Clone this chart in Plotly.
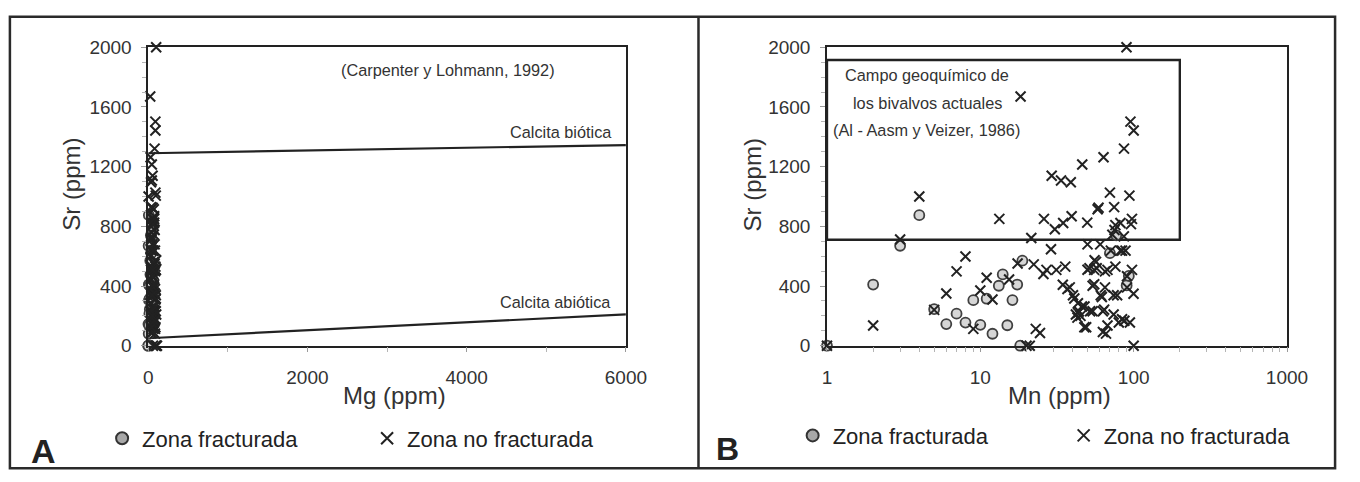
import plotly.graph_objects as go

W, H = 1360, 482

# ---- Zona fracturada (circles) ----
fz_mn = [1, 2, 3, 4, 5, 6, 7, 8, 9, 10, 11, 12, 13.2, 14, 15, 16.2, 17.4, 18.8, 18.2, 70, 77, 90, 93]
fz_sr = [0, 410, 670, 875, 245, 145, 215, 155, 305, 140, 315, 80, 402, 478, 137, 306, 410, 570, 0, 620, 740, 404, 468]
fz_mg = [0, 12, 5, 8, 20, 3, 15, 25, 10, 30, 18, 6, 22, 28, 14, 35, 9, 26, 2, 40, 33, 19, 45]

# ---- Zona no fracturada (crosses) ----
nfz_mn = [1, 2, 3, 4, 5, 6, 7, 8, 9, 10,
          11, 12, 13.3, 15.4, 17.5, 18.3, 20, 21, 21.5, 22.3,
          23, 24.5, 25.8, 26, 27, 28.9, 29.2, 30.6, 31.3, 33.6,
          34.7, 35.8, 38.9, 39.4, 34.5, 37, 38.3, 40.2, 41, 42,
          43, 43.3, 44, 46, 46.2, 47.7, 49.8, 50, 50, 52,
          54, 55.6, 57.4, 58.2, 59, 60.5, 62, 63, 63, 63.6,
          65, 65, 66, 67.5, 70, 71, 72.6, 74, 74, 74.6,
          75, 76, 76, 78, 80, 82, 84, 84, 86.3, 86.5,
          89.8, 90.5, 90.5, 93.8, 94.5, 95.3, 96, 97.5, 97.5, 99.8,
          100, 100, 64.2, 49, 47.8, 43.4, 56.8, 51.5, 55.3, 67.5,
          55.3, 61, 88.5, 82, 54, 87, 45]
nfz_sr = [0, 135, 712, 1000, 240, 350, 498, 598, 113, 370,
          455, 310, 850, 444, 551, 1670, 0, 0, 722, 545,
          113, 85, 481, 850, 508, 647, 1139, 780, 508, 1107,
          822, 530, 1096, 868, 408, 380, 391, 338, 316, 209,
          188, 284, 230, 263, 1214, 124, 825, 679, 509, 231,
          402, 573, 519, 915, 925, 679, 327, 231, 92, 1263,
          391, 498, 81, 135, 1026, 637, 744, 338, 209, 929,
          776, 808, 530, 338, 156, 822, 177, 637, 733, 1321,
          2000, 466, 391, 1006, 156, 1502, 815, 850, 508, 348,
          1442, 0, 242, 124, 263, 220, 562, 519, 508, 508,
          412, 338, 637, 637, 231, 167, 200]
nfz_mg = [95, 60, 40, 5, 75, 50, 85, 30, 65, 45,
          70, 90, 55, 35, 80, 25, 60, 100, 45, 75,
          85, 40, 65, 50, 95, 30, 55, 70, 80, 45,
          60, 90, 35, 75, 50, 85, 65, 40, 95, 55,
          70, 30, 80, 60, 45, 90, 75, 50, 35, 85,
          65, 100, 40, 70, 55, 80, 45, 95, 60, 30,
          75, 50, 85, 65, 90, 40, 70, 55, 100, 35,
          80, 60, 45, 95, 75, 50, 85, 65, 40, 80,
          100, 55, 70, 95, 45, 90, 60, 75, 50, 85,
          90, 110, 65, 40, 80, 55, 70, 45, 95, 60,
          75, 50, 85, 65, 40, 80, 55]

# ---- Reference lines / fields ----
line_mg = [0, 6000]
biotica_sr = [1290, 1345]
abiotica_sr = [50, 210]
campo_mn = [1, 1, 200, 200, 1]
campo_sr = [710, 1915, 1915, 710, 710]

FONT = "Liberation Sans, Arial, sans-serif"
DARK = "#222222"
TXT = "#333333"

circ = dict(symbol="circle", size=10, color="#d6d6d6", line=dict(color="#404040", width=1.8))
cross = dict(symbol="x-thin", size=10, color=DARK, line=dict(color=DARK, width=2))
leg_circ = dict(symbol="circle", size=9, color="#a8a8a8", line=dict(color="#333333", width=1.6))
leg_cross = dict(symbol="x-thin", size=9, color=DARK, line=dict(color=DARK, width=2))

fig = go.Figure()

# Panel A
fig.add_trace(go.Scatter(x=line_mg, y=biotica_sr, mode="lines", line=dict(color=DARK, width=2.2),
                         xaxis="x", yaxis="y", showlegend=False, hoverinfo="skip"))
fig.add_trace(go.Scatter(x=line_mg, y=abiotica_sr, mode="lines", line=dict(color=DARK, width=2.2),
                         xaxis="x", yaxis="y", showlegend=False, hoverinfo="skip"))
fig.add_trace(go.Scatter(x=fz_mg, y=fz_sr, mode="markers", marker=circ, name="Zona fracturada",
                         xaxis="x", yaxis="y", showlegend=False, cliponaxis=False))
fig.add_trace(go.Scatter(x=nfz_mg, y=nfz_sr, mode="markers", marker=cross, name="Zona no fracturada",
                         xaxis="x", yaxis="y", showlegend=False, cliponaxis=False))
fig.add_trace(go.Scatter(x=[None], y=[None], mode="markers", marker=leg_circ, name="Zona fracturada",
                         xaxis="x", yaxis="y", legend="legend"))
fig.add_trace(go.Scatter(x=[None], y=[None], mode="markers", marker=leg_cross, name="Zona no fracturada",
                         xaxis="x", yaxis="y", legend="legend"))

# Panel B
fig.add_trace(go.Scatter(x=campo_mn, y=campo_sr, mode="lines", line=dict(color=DARK, width=2.4),
                         xaxis="x2", yaxis="y2", showlegend=False, hoverinfo="skip"))
fig.add_trace(go.Scatter(x=fz_mn, y=fz_sr, mode="markers", marker=circ, name="Zona fracturada",
                         xaxis="x2", yaxis="y2", showlegend=False, cliponaxis=False))
fig.add_trace(go.Scatter(x=nfz_mn, y=nfz_sr, mode="markers", marker=cross, name="Zona no fracturada",
                         xaxis="x2", yaxis="y2", showlegend=False, cliponaxis=False))
fig.add_trace(go.Scatter(x=[None], y=[None], mode="markers", marker=leg_circ, name="Zona fracturada",
                         xaxis="x2", yaxis="y2", legend="legend2"))
fig.add_trace(go.Scatter(x=[None], y=[None], mode="markers", marker=leg_cross, name="Zona no fracturada",
                         xaxis="x2", yaxis="y2", legend="legend2"))

ydom = [(H - 351) / H, (H - 39) / H]
axis_common = dict(showline=True, linecolor=DARK, linewidth=1.5, mirror=True, showgrid=False,
                   zeroline=False, ticks="outside", tickcolor="#9a9a9a", ticklen=5, tickwidth=1,
                   tickfont=dict(size=19, color=TXT, family=FONT))
yaxis_common = dict(axis_common, range=[0, 2000], dtick=400,
                    minor=dict(dtick=100, ticks="outside", ticklen=4, tickcolor="#b5b5b5"),
                    ticklabelstandoff=6)

minor_log = [2, 3, 4, 5, 6, 7, 8, 9, 20, 30, 40, 50, 60, 70, 80, 90,
             200, 300, 400, 500, 600, 700, 800, 900]

fig.update_layout(
    width=W, height=H,
    margin=dict(l=0, r=0, t=0, b=0),
    paper_bgcolor="white", plot_bgcolor="white",
    font=dict(family=FONT, color=TXT),
    xaxis=dict(axis_common, domain=[146 / W, 633 / W], range=[0, 6000], dtick=2000,
               minor=dict(dtick=1000, ticks="outside", ticklen=5, tickcolor="#b5b5b5"),
               anchor="y", ticklabelstandoff=9),
    yaxis=dict(yaxis_common, domain=ydom, anchor="x"),
    xaxis2=dict(axis_common, domain=[838 / W, 1307 / W], type="log", range=[0, 3],
                tickvals=[1, 10, 100, 1000], ticktext=["1", "10", "100", "1000"],
                minor=dict(tickvals=minor_log, ticks="outside", ticklen=5, tickcolor="#b5b5b5"),
                anchor="y2", ticklabelstandoff=9),
    yaxis2=dict(yaxis_common, domain=ydom, anchor="x2"),
    legend=dict(orientation="h", x=99 / W, xanchor="left", y=1 - 448 / H, yanchor="middle",
                font=dict(size=22, color=DARK, family=FONT), bgcolor="rgba(0,0,0,0)",
                entrywidth=220, entrywidthmode="pixels", itemsizing="constant"),
    legend2=dict(orientation="h", x=803 / W, xanchor="left", y=1 - 445 / H, yanchor="middle",
                 font=dict(size=22, color=DARK, family=FONT), bgcolor="rgba(0,0,0,0)",
                 entrywidth=226, entrywidthmode="pixels", itemsizing="constant"),
    showlegend=True,
)

def ann(text, x, y, size, xanchor="center", angle=0, bold=False):
    fig.add_annotation(text=("<b>%s</b>" % text) if bold else text,
                       x=x / W, y=1 - y / H, xref="paper", yref="paper",
                       xanchor=xanchor, yanchor="middle", showarrow=False, textangle=angle,
                       font=dict(size=size, color=TXT if not bold else DARK, family=FONT))

ann("(Carpenter y Lohmann, 1992)", 452, 63, 16.3)
ann("Calcita biótica", 621, 128, 16.3, xanchor="right")
ann("Calcita abiótica", 620, 305, 16.3, xanchor="right")
ann("Campo geoquímico de", 940, 68, 16.3)
ann("los bivalvos actuales", 940, 97, 16.3)
ann("(Al - Aasm y Veizer, 1986)", 939, 125, 16.3)
ann("Sr (ppm)", 67, 182, 24, angle=-90)
ann("Sr (ppm)", 762, 183, 24, angle=-90)
ann("Mg (ppm)", 397, 403, 24)
ann("Mn (ppm)", 1075, 403, 24)
ann("A", 39, 461, 34, bold=True)
ann("B", 737, 459, 32, bold=True)

# outer frame and divider
fig.add_shape(type="rect", xref="paper", yref="paper", x0=5 / W, x1=1356 / W, y0=1 - 479 / H, y1=1 - 7 / H,
              line=dict(color="#2a2a2a", width=2.5))
fig.add_shape(type="line", xref="paper", yref="paper", x0=707 / W, x1=707 / W, y0=1 - 479 / H, y1=1 - 7 / H,
              line=dict(color="#2a2a2a", width=2.5))

fig.write_html("out.html", config={"displayModeBar": False},
               post_script="document.body.style.margin='0';document.body.style.overflow='hidden';")
